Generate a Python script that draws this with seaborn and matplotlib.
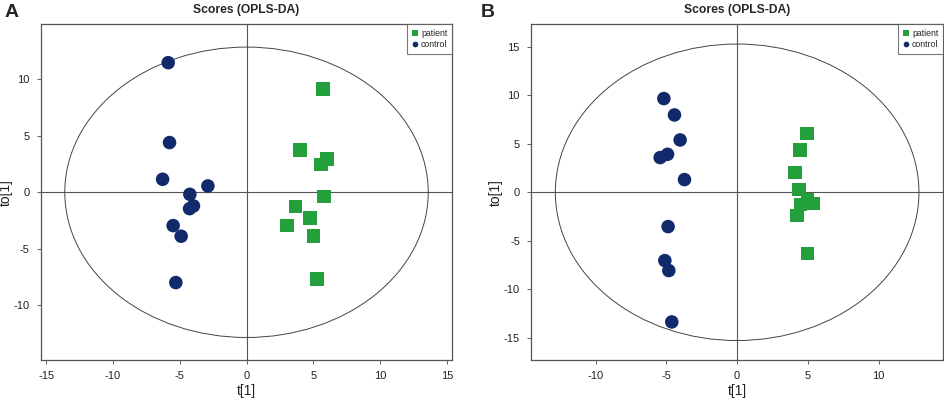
import numpy as np
import pandas as pd
import seaborn as sns
import matplotlib.pyplot as plt
from matplotlib.patches import Ellipse

# ---------------- data ----------------
groups = ["patient", "control"]

a_control_t = [-5.86, -5.76, -6.28, -2.89, -4.24, -3.97, -4.26, -5.49, -4.89, -5.29]
a_control_to = [11.47, 4.40, 1.15, 0.56, -0.18, -1.21, -1.45, -2.95, -3.89, -7.99]
a_patient_t = [5.74, 3.99, 6.01, 5.56, 5.79, 3.67, 4.76, 3.04, 5.01, 5.26]
a_patient_to = [9.14, 3.75, 2.95, 2.45, -0.38, -1.27, -2.27, -2.92, -3.89, -7.67]

b_control_t = [-5.18, -4.43, -4.03, -4.92, -5.44, -3.72, -4.88, -5.11, -4.83, -4.62]
b_control_to = [9.67, 7.98, 5.40, 3.92, 3.58, 1.31, -3.54, -7.05, -8.08, -13.38]
b_patient_t = [4.95, 4.43, 4.10, 4.38, 4.97, 5.37, 4.48, 4.24, 4.97]
b_patient_to = [6.05, 4.37, 2.03, 0.28, -0.79, -1.17, -1.24, -2.41, -6.30]

# Hotelling T2 ellipse half-widths (t, to)
a_ellipse = (13.6, 12.85)
b_ellipse = (12.85, 15.3)

a_xticks = [-15, -10, -5, 0, 5, 10, 15]
a_yticks = [-10, -5, 0, 5, 10]
b_xticks = [-10, -5, 0, 5, 10]
b_yticks = [-15, -10, -5, 0, 5, 10, 15]

# ---------------- styling ----------------
sns.set_theme(style="white")
plt.rcParams["font.family"] = ["Liberation Sans", "DejaVu Sans"]
plt.rcParams["axes.unicode_minus"] = False

palette = {"patient": "#23a03c", "control": "#112a6b"}
markers = {"patient": "s", "control": "o"}


def make_df(ct, cto, pt, pto):
    return pd.DataFrame({
        "t": list(pt) + list(ct),
        "to": list(pto) + list(cto),
        "group": ["patient"] * len(pt) + ["control"] * len(ct),
    })


fig = plt.figure(figsize=(9.45, 4.01), dpi=100)
axA = fig.add_axes([0.0431, 0.1015, 0.4355, 0.838])
axB = fig.add_axes([0.5619, 0.1015, 0.4363, 0.838])

panels = [
    (axA, make_df(a_control_t, a_control_to, a_patient_t, a_patient_to), a_ellipse,
     (-15.4, 15.4), (-14.87, 14.87), a_xticks, a_yticks),
    (axB, make_df(b_control_t, b_control_to, b_patient_t, b_patient_to), b_ellipse,
     (-14.57, 14.57), (-17.34, 17.34), b_xticks, b_yticks),
]

for ax, df, ell, xl, yl, xt, yt in panels:
    ax.axhline(0, color="#555555", lw=0.8, zorder=1)
    ax.axvline(0, color="#555555", lw=0.8, zorder=1)
    ax.add_patch(Ellipse((0, 0), 2 * ell[0], 2 * ell[1], fill=False,
                         edgecolor="#444444", lw=0.7, zorder=1))
    sns.scatterplot(data=df, x="t", y="to", hue="group", style="group",
                    hue_order=groups, style_order=groups,
                    palette=palette, markers=markers, s=95,
                    linewidth=0, ax=ax, zorder=3)
    ax.set_xlim(*xl)
    ax.set_ylim(*yl)
    ax.set_xticks(xt)
    ax.set_yticks(yt)
    ax.tick_params(axis="both", which="both", direction="out", length=3,
                   width=0.6, color="#444444", labelsize=8, labelcolor="#222222",
                   bottom=True, left=True, pad=5)
    for sp in ax.spines.values():
        sp.set_color("#555555")
        sp.set_linewidth(0.9)
    ax.set_xlabel("t[1]", fontsize=10, labelpad=2, color="#222222")
    ax.set_ylabel("to[1]", fontsize=10, color="#222222")
    ax.yaxis.set_label_coords(-0.068, 0.5)
    ax.set_title("Scores (OPLS-DA)", fontsize=8.7, fontweight="bold", pad=8)
    leg = ax.legend(loc="upper right", fontsize=6.3, markerscale=0.42,
                    frameon=True, fancybox=False, borderaxespad=0,
                    handletextpad=0.3, borderpad=0.55, labelspacing=0.2,
                    handlelength=0.8)
    leg.get_frame().set_edgecolor("#555555")
    leg.get_frame().set_linewidth(0.8)
    leg.set_title(None)

fig.text(0.005, 0.99, "A", fontsize=14, fontweight="bold", va="top", ha="left")
fig.text(0.509, 0.99, "B", fontsize=14, fontweight="bold", va="top", ha="left")

fig.savefig("out.png", dpi=100)
